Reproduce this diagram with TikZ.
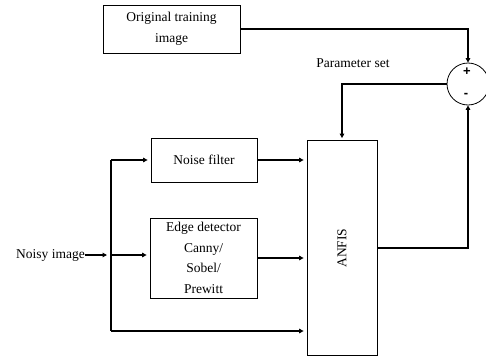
\documentclass[tikz,border=0pt]{standalone}
\usepackage{fontspec}
\setmainfont{Liberation Serif}
\setsansfont{Liberation Sans}
\usetikzlibrary{arrows.meta, positioning}

\begin{document}
\begin{tikzpicture}[x=1pt, y=1pt,
    font=\fontsize{13.5}{20.5}\selectfont,
    block/.style={draw, line width=0.8pt, align=center, inner sep=2pt},
    link/.style={line width=1.3pt},
    >={Triangle[length=4.5pt, width=4.5pt]}]

    \useasboundingbox (0,0) rectangle (486,360);

    % Blocks
    \node[block, minimum width=137pt, minimum height=48pt] (orig) at (171.5,331) {Original training\\image};
    \node[block, circle, minimum size=42pt, inner sep=0pt] (sum) at (468,276) {};
    \node[font=\sffamily\bfseries\fontsize{13}{13}\selectfont] (plus) at (467,288) {+};
    \node[font=\sffamily\bfseries\fontsize{13}{13}\selectfont] (minus) at (466,265) {-};
    \node (param) at (353,297) {Parameter set};

    \node[block, minimum width=70pt, minimum height=215pt] (anfis) at (342,112) {};
    \node[rotate=90] at (anfis) {ANFIS};

    \node[block, minimum width=106pt, minimum height=44pt] (noise) at (204,200) {Noise filter};
    \node[block, minimum width=107pt, minimum height=80pt] (edge) at (203.5,102) {Edge detector\\Canny/\\Sobel/\\Prewitt};

    \node[anchor=east, inner sep=0pt] (noisy) at (85,105) {Noisy image};
    \coordinate (split) at (111,105);
    \coordinate (top) at (111,200);
    \coordinate (bottom) at (111,29);

    % Feedback loop
    \draw[link, ->] (orig.east) -| (sum.north);
    \draw[link, ->, shorten >=2pt] (sum.west) -| (anfis.north);
    \draw[link, ->] (anfis.east) -| (sum.south);

    % Inputs
    \draw[link, ->, shorten >=4pt] (noisy) -- (split);
    \draw[link] (top) -- (bottom);
    \draw[link, ->, shorten >=3pt] (top) -- (noise.west);
    \draw[link, ->, shorten >=3pt] (split) -- (split -| edge.west);
    \draw[link, ->, shorten >=3pt] (bottom) -- (bottom -| anfis.west);
    \draw[link, ->, shorten >=3pt] (noise.east) -- (noise.east -| anfis.west);
    \draw[link, ->, shorten >=3pt] (edge.east) -- (edge.east -| anfis.west);

\end{tikzpicture}
\end{document}
